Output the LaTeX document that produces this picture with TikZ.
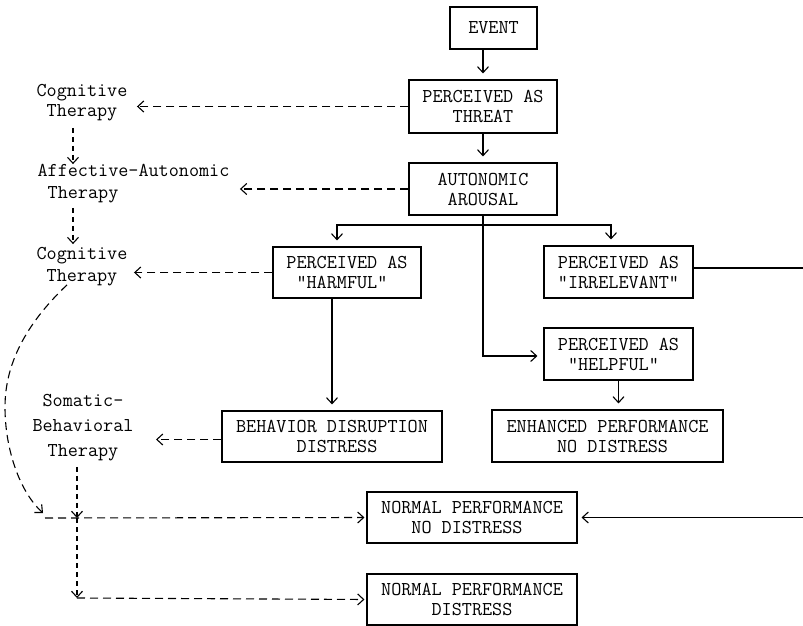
\documentclass[tikz,border=0pt]{standalone}
\usetikzlibrary{arrows.meta}
\begin{document}
\begin{tikzpicture}[x=1pt,y=-1pt,
  font=\ttfamily\fontsize{19.6}{20}\selectfont,
  line width=1.1pt,
  box/.style={draw, inner sep=0pt, align=left},
  lbl/.style={inner sep=0pt, align=center},
  arr/.style={-{Straight Barb[length=6pt,width=11pt]}, shorten >=6pt},
  darr/.style={-{Straight Barb[length=6pt,width=11pt]}, dash pattern=on 8pt off 5pt},
  dvarr/.style={-{Straight Barb[length=6pt,width=11pt]}, dash pattern=on 5pt off 4pt}]
\useasboundingbox (0,0) rectangle (803,626);

% boxes
\node[box, minimum width=87pt, minimum height=42pt] (event) at (493.5,28) {EVENT};
\node[box, minimum width=148pt, minimum height=53pt] (threat) at (483,106.5) {PERCEIVED AS\\\phantom{XXX}THREAT};
\node[box, minimum width=148pt, minimum height=52pt] (arousal) at (483,189) {AUTONOMIC\\\phantom{X}AROUSAL};
\node[box, minimum width=148pt, minimum height=51pt] (harmful) at (347,272.5) {PERCEIVED AS\\\phantom{X}"HARMFUL"};
\node[box, minimum width=149pt, minimum height=52pt] (irrelevant) at (618.5,272) {PERCEIVED AS\\"IRRELEVANT"};
\node[box, minimum width=149pt, minimum height=52pt] (helpful) at (618.5,354) {PERCEIVED AS\\\phantom{X}"HELPFUL"};
\node[box, minimum width=220pt, minimum height=51pt] (behavior) at (332,436.5) {BEHAVIOR DISRUPTION\\\phantom{XXXXXX}DISTRESS};
\node[box, minimum width=231pt, minimum height=52pt] (enhanced) at (607.5,436) {ENHANCED PERFORMANCE\\\phantom{XXXXX}NO DISTRESS};
\node[box, minimum width=210pt, minimum height=51pt] (normal1) at (472,517.5) {NORMAL PERFORMANCE\\\phantom{XXX}NO DISTRESS};
\node[box, minimum width=210pt, minimum height=51pt] (normal2) at (472,599.5) {NORMAL PERFORMANCE\\\phantom{XXXXX}DISTRESS};

% left labels
\node[lbl] (cog1) at (82,103) {Cognitive\\Therapy};
\node[inner sep=0pt, align=left] (aff) at (133.5,184) {Affective-Autonomic\\[2pt]\phantom{X}Therapy};
\node[lbl] (cog2) at (82,267) {Cognitive\\[2pt]Therapy};
\node[lbl] (som) at (83,428) {Somatic-\\[5pt]Behavioral\\[5pt]Therapy};

% helper coordinates
\coordinate (re) at (803,0);
\coordinate (vx) at (73,0);
\coordinate (br) at (483,225);
\coordinate (j) at (77,518);
\coordinate (c1) at (43,518);
\coordinate (c2) at (77,598);

% solid connectors
\draw[arr] (event.south -| threat.north) -- (threat.north);
\draw[arr] (threat.south) -- (arousal.north);
\draw[arr] (arousal.south) |- ([yshift=-2pt]helpful.west);
\draw[arr] (br) -| ([xshift=-10pt]harmful.north);
\draw[arr] (br) -| ([xshift=-7.5pt]irrelevant.north);
\draw[arr] (behavior.north |- harmful.south) -- (behavior.north);
\draw[arr] (helpful.south) -- (helpful.south |- enhanced.north);
\draw ([yshift=4pt]irrelevant.east) -- ([yshift=4pt]irrelevant.east -| re);
\draw[arr, shorten >=4pt] (re |- normal1.east) -- (normal1.east);

% dashed connectors
\draw[darr, shorten >=9pt] (threat.west) -- (threat.west -| cog1.east);
\draw[darr, shorten >=10pt] (arousal.west) -- (arousal.west -| aff.east);
\draw[darr, shorten >=6pt] (harmful.west) -- (harmful.west -| cog2.east);
\draw[darr, shorten >=22pt] ([yshift=-3pt]behavior.west) -- ([yshift=-3pt]behavior.west -| som.east);
\draw[dvarr] (vx |- cog1.south) ++(0,6) -- (vx |- aff.north);
\draw[dvarr] (vx |- aff.south) ++(0,4) -- ([yshift=3pt]vx |- cog2.north);
\draw[dvarr] (j |- som.south) ++(0,5) -- (j);
\draw[dvarr] (j) -- (c2);
\draw[darr, shorten >=2pt] (c2) -- (normal2.west);
\draw[darr, shorten >=2pt] ([xshift=2pt]c1) -- (normal1.west);
\draw[darr] ([xshift=-15pt,yshift=2pt]cog2.south) .. controls (30,320) and (5,360) .. (5,407)
  .. controls (5,450) and (20,492) .. ([yshift=5pt]c1);
\end{tikzpicture}
\end{document}
